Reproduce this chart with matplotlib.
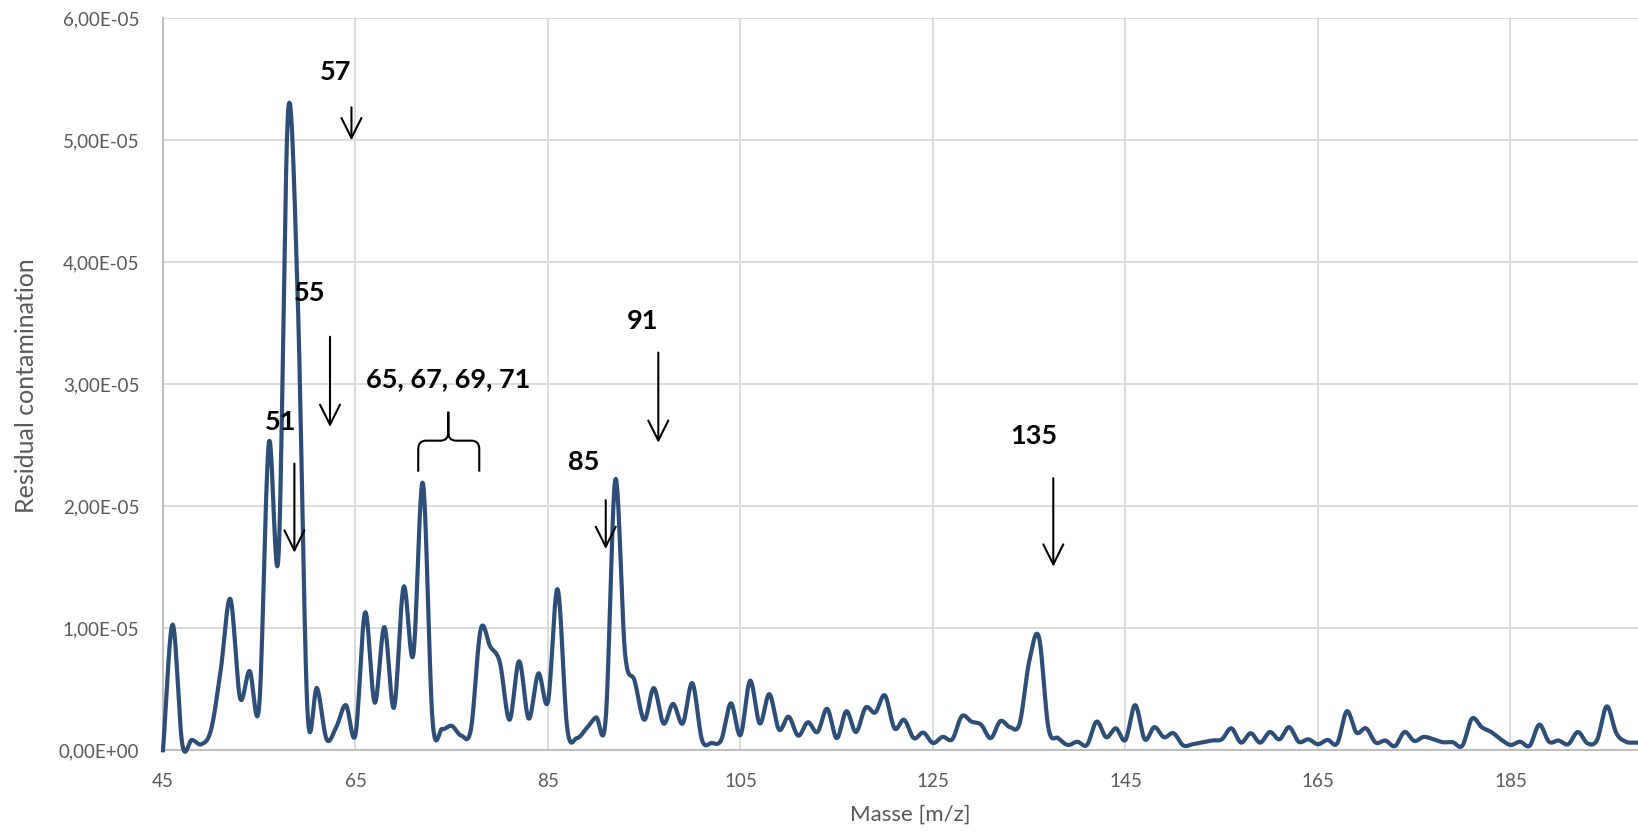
import numpy as np
import matplotlib.pyplot as plt
from matplotlib.path import Path
from matplotlib.patches import PathPatch
from matplotlib.ticker import FuncFormatter

plt.rcParams['font.family'] = ['Lato', 'DejaVu Sans']

# residual contamination per m/z (units of 1e-5)
mass = np.arange(45, 200)
signal_e5 = [
    0, 1.03, 0.05, 0.085, 0.05,
    0.17, 0.66, 1.24, 0.43, 0.65, 0.37, 2.52, 1.59, 5.24, 3.7,
    0.34, 0.51, 0.09, 0.19, 0.37, 0.13, 1.13, 0.39, 1.01, 0.35,
    1.34, 0.78, 2.19, 0.25, 0.175, 0.2, 0.12, 0.175, 0.99, 0.85,
    0.72, 0.25, 0.73, 0.26, 0.63, 0.40, 1.32, 0.18, 0.10, 0.18,
    0.27, 0.26, 2.22, 0.80, 0.57, 0.25, 0.51, 0.22, 0.38, 0.22,
    0.55, 0.085, 0.06, 0.085, 0.385, 0.125, 0.57, 0.22, 0.46, 0.17,
    0.275, 0.12, 0.23, 0.15, 0.34, 0.10, 0.32, 0.15, 0.35, 0.31,
    0.45, 0.18, 0.25, 0.10, 0.145, 0.06, 0.11, 0.09, 0.28, 0.235,
    0.21, 0.10, 0.24, 0.19, 0.22, 0.73, 0.93, 0.18, 0.10, 0.044,
    0.07, 0.044, 0.235, 0.107, 0.18, 0.085, 0.37, 0.09, 0.19, 0.107,
    0.14, 0.04, 0.05, 0.065, 0.08, 0.09, 0.18, 0.063, 0.14, 0.063,
    0.15, 0.09, 0.19, 0.07, 0.09, 0.05, 0.085, 0.057, 0.32, 0.145,
    0.18, 0.063, 0.08, 0.035, 0.15, 0.077, 0.11, 0.09, 0.066, 0.066,
    0.038, 0.26, 0.19, 0.15, 0.09, 0.044, 0.07, 0.038, 0.21, 0.07,
    0.08, 0.05, 0.15, 0.057, 0.085, 0.36, 0.14, 0.07, 0.063, 0.06,
]
signal = np.array(signal_e5) * 1e-5

# peak labels: text, text position, arrow x, arrow tail y, arrow head y
labels = ['57', '55', '51', '85', '91', '135']
label_pos = [(62.97, 5.56), (60.27, 3.75), (57.2, 2.69),
             (88.74, 2.36), (94.82, 3.52), (135.5, 2.58)]
arrows = [(64.58, 5.27, 5.0), (62.35, 3.39, 2.65), (58.65, 2.35, 1.62),
          (91.0, 2.05, 1.65), (96.46, 3.26, 2.52), (137.5, 2.23, 1.505)]
group_label = '65, 67, 69, 71'


def smooth(x, y, n=24):
    # uniform Catmull-Rom through every point (same as a spreadsheet "smoothed line")
    px = np.concatenate([[2 * x[0] - x[1]], x, [2 * x[-1] - x[-2]]])
    py = np.concatenate([[2 * y[0] - y[1]], y, [2 * y[-1] - y[-2]]])
    t = np.linspace(0, 1, n, endpoint=False)[:, None]
    out = []
    for p in (px, py):
        p0, p1, p2, p3 = p[:-3], p[1:-2], p[2:-1], p[3:]
        seg = 0.5 * (2 * p1 + (-p0 + p2) * t
                     + (2 * p0 - 5 * p1 + 4 * p2 - p3) * t ** 2
                     + (-p0 + 3 * p1 - 3 * p2 + p3) * t ** 3)
        out.append(np.concatenate([seg.T.ravel(), [p[-2]]]))
    return out


fig = plt.figure(figsize=(16.38, 8.35), dpi=100)
ax = fig.add_axes([163 / 1638, 1 - 750.3 / 835, 1 - 163 / 1638, 732 / 835])

sx, sy = smooth(mass.astype(float), signal)
ax.plot(sx, sy, color='#2d4e76', lw=3.0, solid_joinstyle='round', clip_on=False, zorder=3)

ax.set_xlim(45, 198.25)
ax.set_ylim(0, 6e-5)
ax.set_xticks(np.arange(45, 199, 20))
ax.set_yticks(np.arange(0, 6.01e-5, 1e-5))
ax.yaxis.set_major_formatter(FuncFormatter(lambda v, p: f'{v:.2E}'.replace('.', ',')))
ax.grid(True, color='#d9d9d9', lw=1.3)
ax.set_axisbelow(True)
for s in ('top', 'right'):
    ax.spines[s].set_visible(False)
for s in ('left', 'bottom'):
    ax.spines[s].set_color('#bfbfbf')
    ax.spines[s].set_linewidth(1.5)
ax.tick_params(length=0, labelsize=13.5, labelcolor='#595959')
ax.tick_params(axis='x', pad=16)
ax.tick_params(axis='y', pad=17)

fig.text(27 / 1638, 1 - 386 / 835, 'Residual contamination', rotation=90,
         ha='center', va='center', fontsize=18, color='#595959')
fig.text(910 / 1638, 1 - 815 / 835, 'Masse [m/z]', ha='center', va='center',
         fontsize=16, color='#595959')

for txt, (tx, ty), (axx, y0, y1) in zip(labels, label_pos, arrows):
    ax.text(tx, ty * 1e-5, txt, ha='center', va='center', fontsize=19.5,
            fontweight='bold', color='black')
    ax.annotate('', xy=(axx, y1 * 1e-5), xytext=(axx, y0 * 1e-5),
                arrowprops=dict(arrowstyle='->,head_length=0.4,head_width=0.2',
                                mutation_scale=36, lw=1.5, color='black',
                                shrinkA=0, shrinkB=0))

ax.text(74.64, 3.04e-5, group_label, ha='center', va='center', fontsize=19.5,
        fontweight='bold', color='black')

# curly brace over the 65-71 group
xl, xc, xr = 71.52, 74.64, 77.86
yb, yh, yt = 2.284e-5, 2.538e-5, 2.775e-5
r = 0.8
dy = 0.07e-5
verts, codes = [], []
for side in (xl, xr):
    sgn = 1 if side < xc else -1
    verts += [(side, yb), (side, yh - dy), (side, yh), (side + sgn * r, yh),
              (xc - sgn * r, yh), (xc, yh), (xc, yh + dy), (xc, yt)]
    codes += [Path.MOVETO, Path.LINETO, Path.CURVE3, Path.CURVE3,
              Path.LINETO, Path.CURVE3, Path.CURVE3, Path.LINETO]
ax.add_patch(PathPatch(Path(verts, codes), fill=False, lw=1.5, color='black'))

fig.savefig('out.png', dpi=100)
